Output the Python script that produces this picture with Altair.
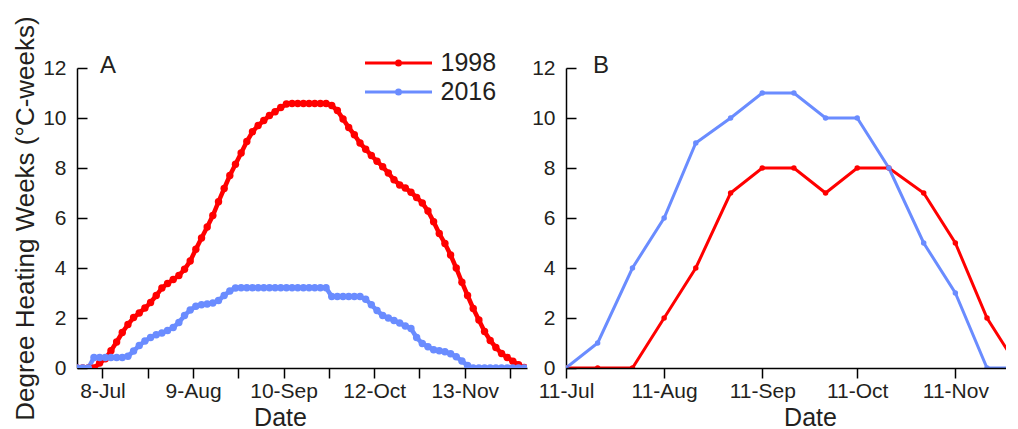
import altair as alt
import pandas as pd

FONT = "Liberation Sans"
INK = "#231f20"
YEARS = ["1998", "2016"]
YEAR_COLORS = ["#ff0000", "#6a8cff"]
Y_TICKS = [0, 2, 4, 6, 8, 10, 12]
Y_TITLE = "Degree Heating Weeks (°C-weeks)"

# ---------------- Panel A: values read every 2 days, starting 29-Jun
A_START = "2016-06-29"
A_STEP = "2D"
A_1998 = [0, 0, 0, 0, 0.2, 0.37, 0.69, 1.04, 1.42, 1.74,
          2.02, 2.2, 2.4, 2.62, 2.9, 3.2, 3.38, 3.54, 3.7, 3.95,
          4.28, 4.75, 5.2, 5.64, 6.1, 6.65, 7.18, 7.7, 8.15, 8.6,
          9.06, 9.45, 9.7, 9.9, 10.1, 10.25, 10.42, 10.56, 10.58, 10.58,
          10.58, 10.58, 10.58, 10.58, 10.58, 10.5, 10.3, 9.96, 9.62, 9.33,
          9.0, 8.75, 8.5, 8.27, 8.05, 7.8, 7.53, 7.32, 7.2, 7.03,
          6.82, 6.6, 6.28, 5.85, 5.38, 4.98, 4.52, 4.0, 3.43, 2.9,
          2.38, 1.92, 1.46, 1.1, 0.82, 0.58, 0.42, 0.27, 0.13, 0.02]
A_2016 = [0, 0, 0, 0.42, 0.42, 0.42, 0.42, 0.42, 0.42, 0.47,
          0.68, 0.9, 1.08, 1.22, 1.33, 1.4, 1.5, 1.62, 1.82, 2.1,
          2.32, 2.47, 2.53, 2.56, 2.6, 2.7, 2.9, 3.08, 3.2, 3.21,
          3.21, 3.21, 3.21, 3.21, 3.21, 3.21, 3.21, 3.21, 3.21, 3.21,
          3.21, 3.21, 3.21, 3.21, 3.21, 2.86, 2.86, 2.86, 2.86, 2.86,
          2.86, 2.75, 2.53, 2.3, 2.1, 2.0, 1.9, 1.8, 1.68, 1.58,
          1.22, 0.98, 0.85, 0.73, 0.69, 0.65, 0.57, 0.45, 0.28, 0.1,
          0, 0, 0, 0, 0, 0, 0, 0, 0, 0]
A_TICKS = [(7, 8), (7, 24), (8, 9), (8, 25), (9, 10), (9, 26), (10, 12), (10, 28), (11, 13), (11, 29)]
A_TICK_LABELS = ["8-Jul", "9-Aug", "10-Sep", "12-Oct", "13-Nov"]
A_DOMAIN = [(6, 29), (12, 5)]

# ---------------- Panel B
B_DATES = ["2016-07-11", "2016-07-21", "2016-08-01", "2016-08-11", "2016-08-21",
           "2016-09-01", "2016-09-11", "2016-09-21", "2016-10-01", "2016-10-11",
           "2016-10-21", "2016-11-01", "2016-11-11", "2016-11-21", "2016-12-01"]
B_1998 = [0, 0, 0, 2, 4, 7, 8, 8, 7, 8, 8, 7, 5, 2, 0]
B_2016 = [0, 1, 4, 6, 9, 10, 11, 11, 10, 10, 8, 5, 3, 0, 0]
B_TICKS = [(7, 11), (8, 11), (9, 11), (10, 11), (11, 11)]
B_DOMAIN = [(7, 11), (11, 27)]

WA, WB, H = 450, 440, 300


def dt(md):
    return alt.DateTime(year=2016, month=md[0], date=md[1])


a_dates = pd.date_range(A_START, periods=len(A_1998), freq=A_STEP).strftime("%Y-%m-%dT%H:%M:%S").tolist()
dfA = pd.DataFrame({
    "date": a_dates + a_dates,
    "value": A_1998 + A_2016,
    "year": [YEARS[0]] * len(A_1998) + [YEARS[1]] * len(A_2016),
})
b_dates = [d + "T00:00:00" for d in B_DATES]
dfB = pd.DataFrame({
    "date": b_dates + b_dates,
    "value": B_1998 + B_2016,
    "year": [YEARS[0]] * len(B_1998) + [YEARS[1]] * len(B_2016),
})

color_scale = alt.Scale(domain=YEARS, range=YEAR_COLORS)
legend_path = "M -12.4 0 L 1 0 M -5.3 0 A 0.4 0.4 0 1 1 -6.1 0 A 0.4 0.4 0 1 1 -5.3 0"
legendA = alt.Legend(title=None, orient="none", legendX=337.5, legendY=-17.5, padding=0,
                     symbolType=legend_path, symbolSize=100, symbolStrokeWidth=3,
                     labelFontSize=25, labelColor=INK, labelFont=FONT,
                     labelOffset=1, rowPadding=3)

y_scale = alt.Scale(domain=[0, 12], nice=False)


def y_left(title):
    kw = dict(orient="left", values=Y_TICKS, ticks=False, tickSize=0, labelPadding=11)
    if title:
        kw.update(title=title, titlePadding=4, titleFontSize=26)
    else:
        kw.update(title=None)
    return alt.Y("value:Q", scale=y_scale, axis=alt.Axis(**kw))


def y_inner(width):
    return alt.Y("value:Q", scale=y_scale,
                 axis=alt.Axis(orient="right", offset=-width, values=Y_TICKS, labels=False,
                               domain=False, ticks=True, tickSize=10, title=None))


label_expr_A = "indexof([" + ",".join("'%s'" % s for s in A_TICK_LABELS) + "], datum.label) >= 0 ? datum.label : ''"
xA = alt.X("date:T",
           scale=alt.Scale(domain=[dt(A_DOMAIN[0]), dt(A_DOMAIN[1])], nice=False),
           axis=alt.Axis(orient="bottom", values=[dt(t) for t in A_TICKS], format="%-d-%b",
                         labelExpr=label_expr_A,
                         title="Date", titleX=203, tickSize=10, labelPadding=2, titlePadding=4,
                         labelFlush=False))
xB = alt.X("date:T",
           scale=alt.Scale(domain=[dt(B_DOMAIN[0]), dt(B_DOMAIN[1])], nice=False),
           axis=alt.Axis(orient="bottom", values=[dt(t) for t in B_TICKS], format="%-d-%b",
                         title="Date", titleX=244, tickSize=10, labelPadding=2, titlePadding=4,
                         labelFlush=False, zindex=1))

lineA = alt.Chart(dfA).mark_line(strokeWidth=4.5, clip=True).encode(
    x=xA, y=y_left(Y_TITLE),
    color=alt.Color("year:N", scale=color_scale, legend=legendA),
    order=alt.Order("date:T"),
)
ptsA = alt.Chart(dfA).mark_circle(size=55, opacity=1, clip=True).encode(
    x=xA, y=y_inner(WA),
    color=alt.Color("year:N", scale=color_scale, legend=None),
)
panelA = alt.layer(lineA, ptsA).properties(
    width=WA, height=H,
    title=alt.TitleParams("A", anchor="start", frame="group", orient="top", dx=23, offset=-80.8,
                          baseline="alphabetic", fontSize=24, fontWeight="normal", color=INK, font=FONT),
)

lineB = alt.Chart(dfB).mark_line(strokeWidth=3, clip=True).encode(
    x=xB, y=y_left(None),
    color=alt.Color("year:N", scale=color_scale, legend=None),
    order=alt.Order("date:T"),
)
ptsB = alt.Chart(dfB).mark_circle(size=30, opacity=1, clip=True).encode(
    x=xB, y=y_inner(WB),
    color=alt.Color("year:N", scale=color_scale, legend=None),
)
panelB = alt.layer(lineB, ptsB).properties(
    width=WB, height=H,
    title=alt.TitleParams("B", anchor="start", frame="group", orient="top", dx=27, offset=-40.3,
                          baseline="alphabetic", fontSize=24, fontWeight="normal", color=INK, font=FONT),
)

chart = alt.hconcat(panelA, panelB, spacing=39, bounds="flush").resolve_scale(
    color="independent").resolve_legend(color="independent").properties(
    padding={"left": 4, "top": 7, "right": 0, "bottom": 0}
).configure_view(stroke=None).configure_axis(
    labelFont=FONT, titleFont=FONT, labelColor=INK, titleColor=INK,
    labelFontSize=21, titleFontSize=25, titleFontWeight="normal",
    domainColor="#000000", tickColor="#000000", domainWidth=1.5, tickWidth=1.5, grid=False,
)

chart.save("out.html", embed_options={"renderer": "svg", "actions": False})
